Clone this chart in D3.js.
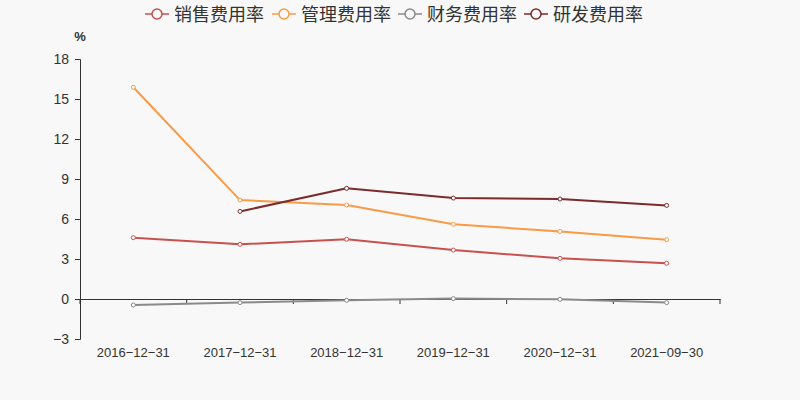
<!DOCTYPE html>
<html>
<head>
<meta charset="utf-8">
<script src="https://cdn.jsdelivr.net/npm/d3@7"></script>
<style>
  body { margin: 0; background: #f8f8f8; }
  svg { display: block; font-family: "Liberation Sans", Arial, sans-serif; }
</style>
</head>
<body>
<svg width="800" height="400"></svg>
<script>
// data
const dates = ["2016-12-31", "2017-12-31", "2018-12-31", "2019-12-31", "2020-12-31", "2021-09-30"];
const seriesNames = ["销售费用率", "管理费用率", "财务费用率", "研发费用率"];
const seriesColors = ["#c8504f", "#f89a47", "#8a8a8a", "#7b2b2b"];
const sales = [4.6, 4.1, 4.48, 3.67, 3.05, 2.68];
const admin = [15.88, 7.42, 7.05, 5.6, 5.07, 4.45];
const finance = [-0.45, -0.27, -0.1, 0.03, -0.02, -0.27];
const rnd = [null, 6.57, 8.3, 7.57, 7.5, 7.02];
const yTicks = [-3, 0, 3, 6, 9, 12, 15, 18];

const allSeries = [sales, admin, finance, rnd];

const svg = d3.select('svg')
svg.append("rect").attr("width", 800).attr("height", 400).attr("fill", "#f8f8f8")

// scales
let plotLeft = 80, plotRight = 720, plotTop = 59, plotBottom = 339;

const x = d3.scaleBand().domain(dates).range([plotLeft, plotRight])
const y = d3.scaleLinear().domain([-3, 18]).range([plotBottom, plotTop])

// y axis
const yAxis = svg.append("g")
    .attr("transform", `translate(${plotLeft},0)`)
    .call(d3.axisLeft(y).tickValues(yTicks).tickSize(5).tickPadding(6).tickFormat(d => d < 0 ? "\u2212" + Math.abs(d) : d))
yAxis.select(".domain").attr("stroke", "#333")
yAxis.selectAll(".tick line").attr("stroke", "#333")
yAxis.selectAll("text").attr("font-size", "14px").attr("fill", "#333")

svg.append("text")
    .attr("x", 80)
    .attr("y", 41)
    .attr("text-anchor", "middle")
    .attr("font-size", "13px")
    .attr("font-weight", "bold")
    .attr("fill", "#333")
    .text("%")

// x axis at zero
const xAxis = svg.append("g")
    .attr("transform", `translate(0,${y(0)})`)
    .call(d3.axisBottom(x).tickSize(0).tickFormat(""))
xAxis.select(".domain").attr("stroke", "#333")

// tick marks at band boundaries
const bounds = dates.map(d => x(d)).concat([x(dates[dates.length - 1]) + x.bandwidth()])
xAxis.selectAll(".bound")
    .data(bounds)
    .enter().append("line")
    .attr("x1", d => d).attr("x2", d => d)
    .attr("y1", 0).attr("y2", 5)
    .attr("stroke", "#333")

// x labels at bottom
svg.append("g").selectAll("text")
    .data(dates)
    .enter().append("text")
    .attr("x", d => x(d) + x.bandwidth() / 2)
    .attr("y", 357)
    .attr("text-anchor", "middle")
    .attr("font-size", "13px")
    .attr("fill", "#333")
    .text(d => d.replace(/-/g, "\u2212"))

// lines
const line = d3.line()
    .defined(d => d.v !== null)
    .x(d => x(d.date) + x.bandwidth() / 2)
    .y(d => y(d.v))

allSeries.forEach((vals, i) => {
    const pts = vals.map((v, j) => ({date: dates[j], v: v}))
    svg.append("path")
        .datum(pts)
        .attr("fill", "none")
        .attr("stroke", seriesColors[i])
        .attr("stroke-width", 2)
        .attr("d", line)
    svg.append("g").selectAll("circle")
        .data(pts.filter(d => d.v !== null))
        .enter().append("circle")
        .attr("cx", d => x(d.date) + x.bandwidth() / 2)
        .attr("cy", d => y(d.v))
        .attr("r", 2)
        .attr("fill", "#fff")
        .attr("stroke", seriesColors[i])
        .attr("stroke-width", 1)
})

// legend
const legendX = [145, 272, 398, 524];
const legend = svg.append("g")
seriesNames.forEach((name, i) => {
    const g = legend.append("g").attr("transform", `translate(${legendX[i]},14)`)
    g.append("line").attr("x1", 0).attr("x2", 24).attr("y1", 0).attr("y2", 0)
        .attr("stroke", seriesColors[i]).attr("stroke-width", 1.5)
    g.append("circle").attr("cx", 12).attr("cy", 0).attr("r", 5)
        .attr("fill", "#f8f8f8").attr("stroke", seriesColors[i]).attr("stroke-width", 1.5)
    g.append("text").attr("x", 29).attr("y", 6.5)
        .attr("font-size", "18px")
        .attr("font-family", "'Noto Sans CJK SC', sans-serif")
        .attr("fill", "#333")
        .text(name)
})
</script>
</body>
</html>
